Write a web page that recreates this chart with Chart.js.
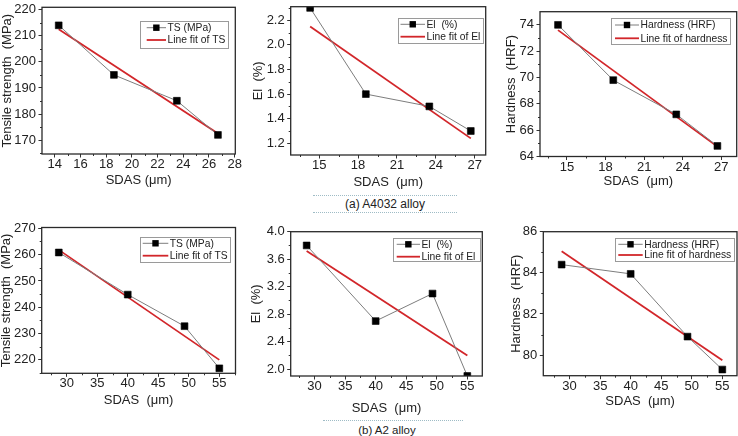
<!DOCTYPE html>
<html><head><meta charset="utf-8">
<script src="https://cdn.jsdelivr.net/npm/chart.js@4.4.1/dist/chart.umd.min.js"></script>
<style>
html,body{margin:0;padding:0;background:#fff;overflow:hidden;width:738px;height:436px;}
.pane{position:absolute;}
.pane canvas{display:block;}
.cap{position:absolute;font-family:"Liberation Sans",Arial,sans-serif;color:#222;white-space:nowrap;transform:translate(-50%,-50%);}
.dots{position:absolute;height:0;border-top:1px dotted #9fbcc6;}
</style></head><body>
<div class="cap" style="left:385px;top:203.5px;font-size:12px;">(a) A4032 alloy</div>
<div class="dots" style="left:313px;top:195px;width:144px;"></div>
<div class="dots" style="left:313px;top:211.5px;width:144px;"></div>
<div class="cap" style="left:387px;top:430px;font-size:11.5px;">(b) A2 alloy</div>
<div class="dots" style="left:323px;top:420px;width:140px;"></div>
<script>
// ---------- data: (a) A4032 alloy ----------
const sdasA    = [14.3, 18.6, 23.5, 26.7];
const tsA      = [214.0, 195.0, 185.1, 172.0];
const elA      = [2.30, 1.60, 1.50, 1.30];
const hardA    = [74.0, 69.8, 67.2, 64.8];
const fitSdasA = [14.3, 26.7];
const tsFitA   = [212.5, 172.6];
const elFitA   = [2.15, 1.24];
const hardFitA = [73.6, 64.75];
// ---------- data: (b) A2 alloy ----------
const sdasB    = [28.7, 40.0, 49.3, 55.0];
const tsB      = [260.8, 244.8, 232.8, 216.8];
const elB      = [3.80, 2.70, 3.10, 1.90];
const hardB    = [84.4, 83.95, 80.9, 79.3];
const fitSdasB = [28.7, 55.0];
const tsFitB   = [261.8, 220.0];
const elFitB   = [3.72, 2.20];
const hardFitB = [85.05, 79.75];
// ---------- tick labels ----------
const xTicksTS_A   = ['14','16','18','20','22','24','26','28'];
const xTicks3_A    = ['15','18','21','24','27'];
const xTicksB      = ['30','35','40','45','50','55'];
const yTicksTS_A   = ['170','180','190','200','210','220'];
const yTicksEl_A   = ['1.2','1.4','1.6','1.8','2.0','2.2'];
const yTicksHard_A = ['64','66','68','70','72','74'];
const yTicksTS_B   = ['220','230','240','250','260','270'];
const yTicksEl_B   = ['2.0','2.4','2.8','3.2','3.6','4.0'];
const yTicksHard_B = ['80','82','84','86'];
// ---------- text ----------
const xTitle1 = 'SDAS (μm)';
const xTitle2 = 'SDAS  (μm)';
const yTitleTS = 'Tensile strength  (MPa)';
const yTitleEl = 'El  (%)';
const yTitleHard = 'Hardness  (HRF)';

// ---------- layout / style (page pixel coords) ----------
const panels = [
 {xs:sdasA, ys:tsA, fx:fitSdasA, fy:tsFitA, lab:'TS (MPa)', fitLab:'Line fit of TS', xT:xTitle1, yT:yTitleTS,
  xt:xTicksTS_A, yt:yTicksTS_A, xr:[13.0,28.05], yr:[164.7,220.9], frame:[42,7.3,235.3,154], ytx:7.5, xty:180,
  lg:{box:[140,21,228,48], line:[146.7,166], rows:[27.7,40]}},
 {xs:sdasA, ys:elA, fx:fitSdasA, fy:elFitA, lab:'El  (%)', fitLab:'Line fit of El', xT:xTitle2, yT:yTitleEl,
  xt:xTicks3_A, yt:yTicksEl_A, xr:[12.8,27.85], yr:[1.105,2.31], frame:[290.7,6.7,485.7,155], ytx:258.3, xty:182.7,
  lg:{box:[397.7,18.3,482.3,43.3], line:[400.5,425], rows:[24.3,36.7]}},
 {xs:sdasA, ys:hardA, fx:fitSdasA, fy:hardFitA, lab:'Hardness (HRF)', fitLab:'Line fit of hardness', xT:xTitle2, yT:yTitleHard,
  xt:xTicks3_A, yt:yTicksHard_A, xr:[12.9,28.2], yr:[64,75], frame:[540,11.7,736.7,156.5], ytx:511.7, xty:181.7,
  lg:{box:[610.7,18.3,729.3,44.3], line:[615,639], rows:[25,38.3]}},
 {xs:sdasB, ys:tsB, fx:fitSdasB, fy:tsFitB, lab:'TS (MPa)', fitLab:'Line fit of TS', xT:xTitle2, yT:yTitleTS,
  xt:xTicksB, yt:yTicksTS_B, xr:[25.9,57.65], yr:[214.9,270.3], frame:[41.7,227.5,235.5,373.3], ytx:6.7, xty:400,
  lg:{box:[140,236.7,230,261.7], line:[142.7,168.3], rows:[243.3,255.7]}},
 {xs:sdasB, ys:elB, fx:fitSdasB, fy:elFitB, lab:'El  (%)', fitLab:'Line fit of El', xT:xTitle2, yT:yTitleEl,
  xt:xTicksB, yt:yTicksEl_B, xr:[26.09,57.45], yr:[1.9,4.0], frame:[290.7,231.7,482.3,376], ytx:256.7, xty:408,
  lg:{box:[393.3,238.3,480.5,261.7], line:[396.7,420], rows:[244.3,256.7]}},
 {xs:sdasB, ys:hardB, fx:fitSdasB, fy:hardFitB, lab:'Hardness (HRF)', fitLab:'Line fit of hardness', xT:xTitle2, yT:yTitleHard,
  xt:xTicksB, yt:yTicksHard_B, xr:[25.7,57.4], yr:[79,86], frame:[543.3,231.7,737,375.7], ytx:516.7, xty:401.7,
  lg:{box:[615,238.3,734.3,261.7], line:[618.3,642.7], rows:[244.3,255]}}
];

const FONT = '"Liberation Sans", Arial, sans-serif';
const INK = '#222';
const RED = '#d2262a';
const GREY = '#7d7d7d';

function minorTicks(vals, lo, hi){
  const out = [];
  if (vals.length < 2) return out;
  const st = vals[1]-vals[0];
  const cands = [vals[0]-st/2];
  for (let i=0;i<vals.length;i++) cands.push(vals[i]+st/2);
  cands.forEach(v=>{ if (v>lo && v<hi) out.push(v); });
  return out;
}

const framePlugin = {
  id:'frameLegend',
  afterDraw(chart, args, o){
    const {ctx, chartArea:a} = chart;
    const xs = chart.scales.x, ys = chart.scales.y;
    ctx.save();
    ctx.strokeStyle = '#333'; ctx.lineWidth = 1;
    ctx.beginPath();
    o.xMinor.forEach(v=>{ const p = Math.round(xs.getPixelForValue(v))+0.5; ctx.moveTo(p,a.bottom); ctx.lineTo(p,a.bottom+2); });
    o.yMinor.forEach(v=>{ const p = Math.round(ys.getPixelForValue(v))+0.5; ctx.moveTo(a.left,p); ctx.lineTo(a.left-2,p); });
    ctx.stroke();
    ctx.lineWidth = 1.3; ctx.strokeStyle = '#2a2a2a';
    ctx.strokeRect(a.left, a.top, a.right-a.left, a.bottom-a.top);
    // legend
    const g = o.lg, ox = o.ox, oy = o.oy;
    const bx = g.box[0]-ox, by = g.box[1]-oy, bw = g.box[2]-g.box[0], bh = g.box[3]-g.box[1];
    ctx.fillStyle = '#fff';
    ctx.fillRect(bx,by,bw,bh);
    ctx.strokeStyle = '#9a9a9a'; ctx.lineWidth = 1;
    ctx.strokeRect(Math.round(bx)+0.5, Math.round(by)+0.5, Math.round(bw), Math.round(bh));
    const l0 = g.line[0]-ox, l1 = g.line[1]-ox;
    const r1 = g.rows[0]-oy, r2 = g.rows[1]-oy;
    const ds = chart.data.datasets;
    ctx.strokeStyle = GREY; ctx.lineWidth = 1;
    ctx.beginPath(); ctx.moveTo(l0,r1); ctx.lineTo(l1,r1); ctx.stroke();
    ctx.fillStyle = '#000';
    ctx.fillRect((l0+l1)/2-3.2, r1-3.2, 6.4, 6.4);
    ctx.strokeStyle = RED; ctx.lineWidth = 1.8;
    ctx.beginPath(); ctx.moveTo(l0,r2); ctx.lineTo(l1,r2); ctx.stroke();
    ctx.fillStyle = INK;
    ctx.font = '10.3px ' + FONT;
    ctx.textBaseline = 'middle'; ctx.textAlign = 'left';
    ctx.fillText(ds[0].label, l1+1.5, r1+0.5);
    ctx.fillText(ds[1].label, l1+1.5, r2+0.5);
    ctx.restore();
  }
};

panels.forEach((P, k)=>{
  const [fl, ft, fr, fb] = P.frame;
  const left0 = P.ytx - 7.8;
  const cx = Math.floor(left0) - 2, pl = left0 - cx, Wy = fl - left0;
  const cy = Math.floor(ft) - 10, pt = ft - cy;
  const right = Math.ceil(fr) + 10, cw = right - cx, pr = right - fr;
  const xBot = P.xty + 7.8, Hx = xBot - fb;
  const bottom = Math.ceil(xBot) + 2, ch = bottom - cy, pb = bottom - xBot;

  const div = document.createElement('div');
  div.className = 'pane';
  div.style.left = cx+'px'; div.style.top = cy+'px';
  div.style.width = cw+'px'; div.style.height = ch+'px';
  const cv = document.createElement('canvas');
  div.appendChild(cv);
  document.body.appendChild(div);

  const xv = P.xt.map(Number), yv = P.yt.map(Number);
  new Chart(cv, {
    type:'line',
    data:{datasets:[
      {label:P.lab, data:P.xs.map((x,i)=>({x, y:P.ys[i]})), borderColor:GREY, borderWidth:1,
       pointStyle:'rect', pointRadius:4.8, pointBackgroundColor:'#000', pointBorderColor:'#000', pointBorderWidth:0.6, tension:0},
      {label:P.fitLab, data:P.fx.map((x,i)=>({x, y:P.fy[i]})), borderColor:RED, borderWidth:1.8, pointRadius:0, tension:0}
    ]},
    options:{
      responsive:true, maintainAspectRatio:false, animation:false, devicePixelRatio:1,
      layout:{padding:{left:pl, top:pt, right:pr, bottom:pb}},
      plugins:{legend:{display:false}, tooltip:{enabled:false},
        frameLegend:{xMinor:minorTicks(xv,P.xr[0],P.xr[1]), yMinor:minorTicks(yv,P.yr[0],P.yr[1]), lg:P.lg, ox:cx, oy:cy}},
      scales:{
        x:{type:'linear', position:'bottom', min:P.xr[0], max:P.xr[1],
           afterBuildTicks:s=>{ s.ticks = xv.map(v=>({value:v})); },
           afterFit:s=>{ s.height = Hx; },
           ticks:{autoSkip:false, maxRotation:0, padding:0.5, color:INK, font:{family:FONT, size:13, lineHeight:1},
                  callback:(v,i)=>P.xt[i]},
           grid:{display:true, drawOnChartArea:false, drawTicks:true, tickLength:3.5, color:'#333', lineWidth:1},
           border:{display:false},
           title:{display:true, text:P.xT, color:INK, padding:0, font:{family:FONT, size:13, lineHeight:1.2}}},
        y:{type:'linear', position:'left', min:P.yr[0], max:P.yr[1],
           afterBuildTicks:s=>{ s.ticks = yv.map(v=>({value:v})); },
           afterFit:s=>{ s.width = Wy; },
           ticks:{autoSkip:false, padding:2.5, color:INK, font:{family:FONT, size:13},
                  callback:(v,i)=>P.yt[i]},
           grid:{display:true, drawOnChartArea:false, drawTicks:true, tickLength:3.5, color:'#333', lineWidth:1},
           border:{display:false},
           title:{display:true, text:P.yT, color:INK, padding:0, font:{family:FONT, size:13, lineHeight:1.2}}}
      }
    },
    plugins:[framePlugin]
  });
});
</script>
</body></html>
